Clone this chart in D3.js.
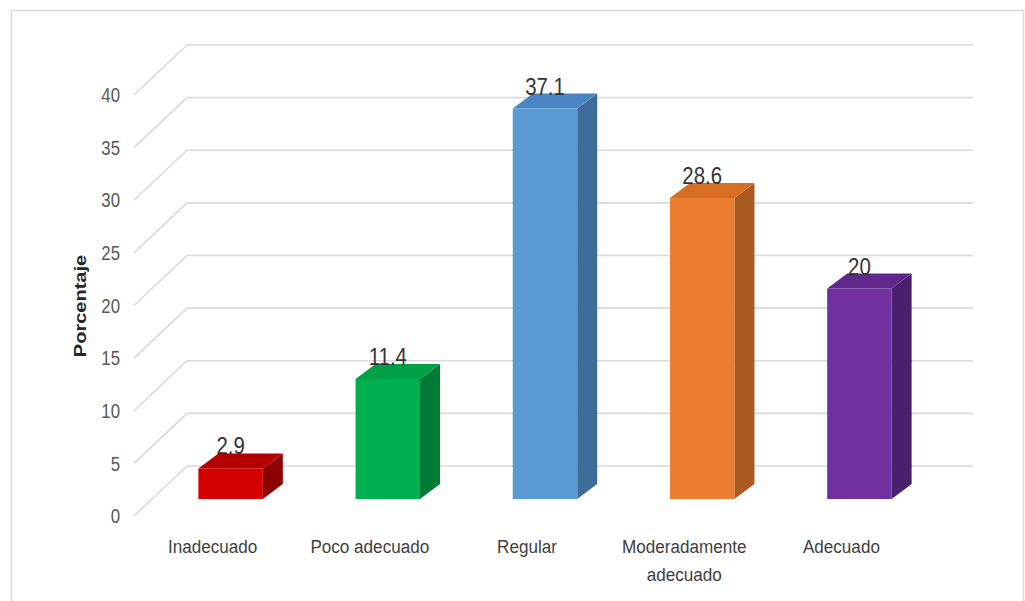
<!DOCTYPE html>
<html>
<head>
<meta charset="utf-8">
<script src="https://cdn.jsdelivr.net/npm/d3@7"></script>
<style>
  html, body { margin: 0; padding: 0; background: #fff; }
  svg { display: block; }
  text { font-family: "Liberation Sans", Arial, sans-serif; }
</style>
</head>
<body>
<script>
// Chart data
const categories = ["Inadecuado", "Poco adecuado", "Regular", "Moderadamente adecuado", "Adecuado"];
const categoryLines = [["Inadecuado"], ["Poco adecuado"], ["Regular"], ["Moderadamente", "adecuado"], ["Adecuado"]];
const values = [2.9, 11.4, 37.1, 28.6, 20];
const valueLabels = ["2.9", "11.4", "37.1", "28.6", "20"];
const yTicks = [0, 5, 10, 15, 20, 25, 30, 35, 40];
const yTitle = "Porcentaje";

// Face colours per bar: front, top, side
const frontColors = ["#d40000", "#00b050", "#5b9bd5", "#ed7d31", "#7030a0"];
const topColors   = ["#b50000", "#00a046", "#4a86c3", "#d86d24", "#60288c"];
const sideColors  = ["#8c0000", "#007a37", "#3d6c98", "#a85a20", "#4a1f6e"];

const width = 1025, height = 601;
const svg = d3.select("body").append("svg")
  .attr("width", width).attr("height", height);

// Outer frame
svg.append("rect")
  .attr("x", 11.5).attr("y", 10.5)
  .attr("width", 1012).attr("height", 600)
  .attr("fill", "none").attr("stroke", "#d9d9d9").attr("stroke-width", 1.5);

// 3D box geometry: front floor edge, wall depth and bar depth
const floorLeft = 134, floorRight = 920;
const wallDepth = { dx: 53, dy: -50 };
const barInset = { dx: 18, dy: -17 };
const barDepth = { dx: 20, dy: -15 };

const y = d3.scaleLinear().domain([0, 40]).range([516, 95]);
const x = d3.scaleBand().domain(categories)
  .range([floorLeft, floorRight])
  .paddingInner(0.59).paddingOuter(0.295);

// Gridlines: slanted side-wall segment + horizontal back-wall line
const grid = svg.append("g");
yTicks.forEach(t => {
  const yf = y(t), yb = y(t) + wallDepth.dy;
  grid.append("path")
    .attr("d", `M${floorLeft},${yf}L${floorLeft + wallDepth.dx},${yb}L${floorRight + wallDepth.dx},${yb}`)
    .attr("fill", "none").attr("stroke", "#d9d9d9").attr("stroke-width", 1.6);
});

// Axis tick labels (narrow face)
const axisG = svg.append("g");
yTicks.forEach(t => {
  axisG.append("text")
    .attr("transform", `translate(120,${y(t)}) scale(0.8,1)`)
    .attr("text-anchor", "end").attr("dominant-baseline", "central")
    .attr("font-size", 21).attr("fill", "#595959")
    .text(t);
});

// Y axis title
svg.append("text")
  .attr("transform", "translate(81,306) rotate(-90) scale(1,0.8)")
  .attr("text-anchor", "middle").attr("dominant-baseline", "central")
  .attr("font-size", 20).attr("font-weight", "bold").attr("fill", "#262626")
  .text(yTitle);

// Bars as extruded boxes
const bars = svg.append("g");
categories.forEach((c, i) => {
  const x0 = x(c) + barInset.dx, x1 = x0 + x.bandwidth();
  const yBase = y(0) + barInset.dy, yTop = y(values[i]) + barInset.dy;
  const dx = barDepth.dx, dy = barDepth.dy;
  // side face
  bars.append("path")
    .attr("d", `M${x1},${yTop}L${x1 + dx},${yTop + dy}L${x1 + dx},${yBase + dy}L${x1},${yBase}Z`)
    .attr("fill", sideColors[i]);
  // top face
  bars.append("path")
    .attr("d", `M${x0},${yTop}L${x0 + dx},${yTop + dy}L${x1 + dx},${yTop + dy}L${x1},${yTop}Z`)
    .attr("fill", topColors[i]);
  // front face
  bars.append("rect")
    .attr("x", x0).attr("y", yTop)
    .attr("width", x1 - x0).attr("height", yBase - yTop)
    .attr("fill", frontColors[i]);
  // value label
  bars.append("text")
    .attr("transform", `translate(${(x0 + x1) / 2},${yTop + dy + 1}) scale(0.85,1)`)
    .attr("text-anchor", "middle")
    .attr("font-size", 24).attr("fill", "#333333")
    .text(valueLabels[i]);
});

// Category labels
const catG = svg.append("g");
categories.forEach((c, i) => {
  const cx = x(c) + x.bandwidth() / 2;
  categoryLines[i].forEach((line, k) => {
    catG.append("text")
      .attr("transform", `translate(${cx},${547 + k * 28}) scale(0.9,1)`)
      .attr("text-anchor", "middle").attr("dominant-baseline", "central")
      .attr("font-size", 19).attr("fill", "#404040")
      .text(line);
  });
});
</script>
</body>
</html>
